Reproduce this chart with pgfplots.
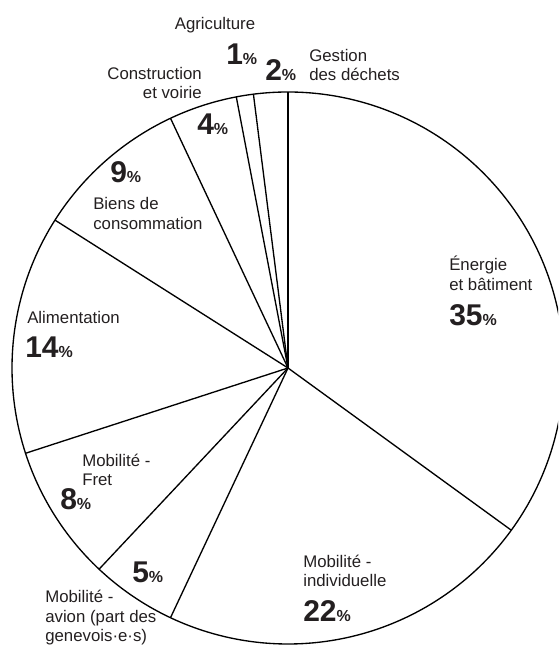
\documentclass[border=0pt]{standalone}
\usepackage{pgfplots}
\pgfplotsset{compat=1.18}
\usepackage{fontspec}
\setmainfont{Liberation Sans}
\definecolor{txt}{RGB}{35,31,32}
% Shares (percent), clockwise from the top
% Energie et batiment 35, Mobilite individuelle 22, Mobilite avion 5,
% Mobilite fret 8, Alimentation 14, Biens de consommation 9,
% Construction et voirie 4, Agriculture 1, Gestion des dechets 2
\newcommand\cx{288}
\newcommand\cy{277}
\newcommand\rr{276}
\newcommand\boundary[1]{%
  \addplot[black, line width=1pt, domain=0:\rr, samples=2]
    ({\cx+x*cos(90-3.6*#1)},{\cy+x*sin(90-3.6*#1)});}
\newcommand\lbl[4][base west]{\node[anchor=#1, inner sep=0pt, text=txt, font=\fontsize{12.6}{14}\selectfont] at (axis cs:#2,645-#3) {#4};}
\newcommand\pct[3]{\node[anchor=base west, inner sep=0pt, text=txt] at (axis cs:#1,645-#2) {\bfseries\fontsize{22.5}{24}\selectfont #3\fontsize{12}{14}\selectfont\%};}
\begin{document}
\begin{tikzpicture}
\begin{axis}[scale only axis, width=418.5pt, height=483.75pt,
  xmin=0, xmax=558, ymin=0, ymax=645, hide axis, clip=true]
\addplot[black, line width=1pt, domain=0:360, samples=361] ({\cx+\rr*cos(x)},{\cy+\rr*sin(x)});
% cumulative shares
\boundary{0}
\boundary{35}
\boundary{57}
\boundary{62}
\boundary{70}
\boundary{84}
\boundary{93}
\boundary{97}
\boundary{98}
\lbl[base]{215}{30}{Agriculture}
\pct{226}{65}{1}
\pct{265}{81}{2}
\lbl{309}{62}{Gestion}
\lbl{309}{81}{des déchets}
\lbl[base east]{202}{80}{Construction}
\lbl[base east]{202}{99}{et voirie}
\pct{197}{135}{4}
\pct{110}{183}{9}
\lbl{93}{210}{Biens de}
\lbl{93}{230}{consommation}
\lbl{27}{324}{Alimentation}
\pct{25}{358}{14}
\lbl{82}{467}{Mobilité -}
\lbl{82}{486}{Fret}
\pct{60}{510}{8}
\pct{132}{583}{5}
\lbl{45}{603}{Mobilité -}
\lbl{45}{623}{avion (part des}
\lbl{45}{642}{genevois·e·s)}
\lbl{303}{568}{Mobilité -}
\lbl{303}{587}{individuelle}
\pct{303}{622}{22}
\lbl{449}{271}{Énergie}
\lbl{449}{291}{et bâtiment}
\pct{449}{326}{35}
\end{axis}
\pgfresetboundingbox
\useasboundingbox (current axis.south west) rectangle (current axis.north east);
\end{tikzpicture}
\end{document}
